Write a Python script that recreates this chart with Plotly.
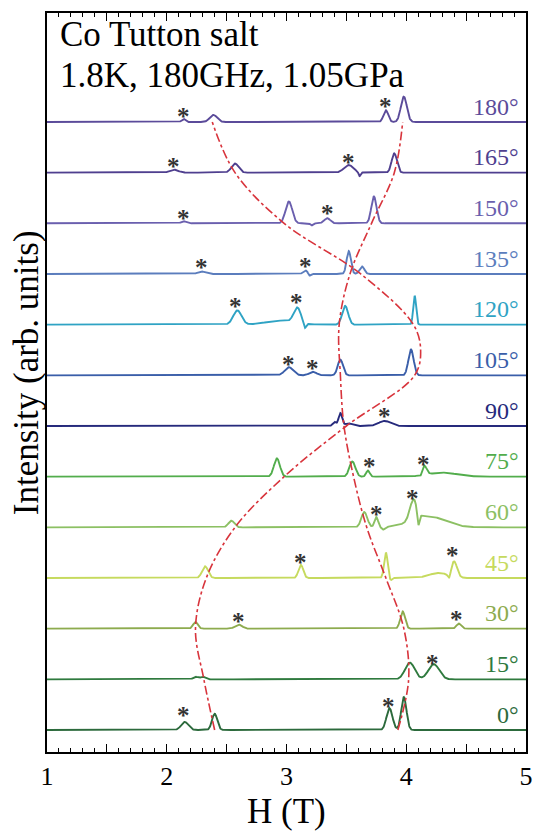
import numpy as np
import plotly.graph_objects as go

# ---------------- data ----------------
ANGLES = [0, 15, 30, 45, 60, 75, 90, 105, 120, 135, 150, 165, 180]
ANGLE_LABELS = ["0°", "15°", "30°", "45°", "60°", "75°", "90°", "105°",
                "120°", "135°", "150°", "165°", "180°"]
COLORS = ["#2c6a3c", "#2f7a3e", "#8dab4e", "#c6da5e", "#8cc063", "#52ad4c",
          "#262a7c", "#3a5ea9", "#2fa3c4", "#5b7dbd", "#6a5fae", "#4f3f8f",
          "#5b4b9a"]

# resonance lines per spectrum: centre field (T), height, width (T)
PEAK_CENTERS = [
    [2.15, 2.40, 3.86, 3.98],
    [2.24, 2.30, 4.03, 4.23],
    [2.24, 2.60, 3.97, 4.44],
    [2.32, 3.12, 3.83, 3.87, 4.27, 4.36, 4.40],
    [2.54, 3.65, 3.75, 3.81, 4.06, 4.10, 4.18],
    [2.92, 3.55, 3.68, 4.12, 4.15, 4.30],
    [3.40, 3.45, 3.52, 3.82],
    [3.02, 3.22, 3.45, 4.04],
    [2.59, 2.95, 3.09, 3.15, 3.49, 4.07],
    [2.29, 3.16, 3.19, 3.52, 3.63],
    [2.14, 3.02, 3.21, 3.34, 3.73],
    [2.06, 2.57, 3.52, 3.61, 3.90],
    [2.14, 2.39, 3.83, 3.98],
]
PEAK_HEIGHTS = [
    [0.16, 0.32, 0.43, 0.65],
    [0.05, 0.05, 0.33, 0.30],
    [0.13, 0.08, 0.34, 0.10],
    [0.23, 0.26, 0.50, -0.05, 0.10, -0.12, 0.30],
    [0.13, 0.30, 0.20, -0.05, 0.40, -0.30, 0.22],
    [0.36, 0.30, 0.12, -0.06, 0.18, 0.08],
    [0.08, 0.25, 0.05, 0.10],
    [0.16, 0.07, 0.31, 0.51],
    [0.28, 0.08, 0.30, -0.12, 0.37, 0.57],
    [0.05, 0.07, -0.05, 0.45, 0.15],
    [0.04, 0.43, -0.04, 0.10, 0.53],
    [0.06, 0.18, 0.15, -0.08, 0.38],
    [0.06, 0.14, 0.23, 0.50],
]
PEAK_WIDTHS = [
    [0.030, 0.022, 0.025, 0.022],
    [0.020, 0.020, 0.040, 0.045],
    [0.020, 0.030, 0.020, 0.020],
    [0.025, 0.020, 0.015, 0.010, 0.080, 0.012, 0.025],
    [0.025, 0.025, 0.015, 0.015, 0.030, 0.010, 0.140],
    [0.025, 0.025, 0.015, 0.010, 0.020, 0.120],
    [0.015, 0.015, 0.030, 0.050],
    [0.035, 0.030, 0.022, 0.022],
    [0.035, 0.120, 0.030, 0.012, 0.025, 0.012],
    [0.030, 0.020, 0.010, 0.018, 0.020],
    [0.020, 0.028, 0.010, 0.025, 0.022],
    [0.035, 0.030, 0.040, 0.008, 0.022],
    [0.015, 0.030, 0.020, 0.025],
]

# asterisks: field position and height above the spectrum baseline
STAR_H = [[2.14, 3.85], [4.22], [2.60, 4.42], [3.12, 4.39], [3.75, 4.05],
          [3.69, 4.14], [3.82], [3.02, 3.22], [2.57, 3.08], [2.29, 3.16],
          [2.14, 3.34], [2.06, 3.52], [2.14, 3.83]]
STAR_Y = [[0.40, 0.59], [0.43], [0.26, 0.30], [0.42, 0.57], [0.38, 0.69],
          [0.32, 0.36], [0.30], [0.34, 0.26], [0.47, 0.55], [0.24, 0.26],
          [0.22, 0.32], [0.24, 0.32], [0.22, 0.43]]

# guide lines (red dash-dot): spectrum index and field
GUIDE_A_IDX = [0, 1, 2, 3, 4, 5, 6, 7, 7.5, 8, 9, 10, 11, 12]
GUIDE_A_H = [2.40, 2.31, 2.24, 2.33, 2.57, 2.98, 3.50, 4.07, 4.12, 4.06,
             3.62, 2.98, 2.57, 2.38]
GUIDE_B_IDX = [0, 1, 2, 3, 4, 5, 6, 7, 8, 9, 10, 11, 12]
GUIDE_B_H = [3.93, 4.02, 3.98, 3.83, 3.67, 3.56, 3.48, 3.45, 3.44, 3.53,
             3.71, 3.90, 3.97]

X_TICKVALS = [1, 1.5, 2, 2.5, 3, 3.5, 4, 4.5, 5]
X_TICKTEXT = ["1", "", "2", "", "3", "", "4", "", "5"]

SERIF = "Liberation Serif, Times New Roman, serif"

# ---------------- figure ----------------
H = np.linspace(1, 5, 1601)
fig = go.Figure()

for k, ang in enumerate(ANGLES):
    y = np.full_like(H, float(k))
    for c, a, w in zip(PEAK_CENTERS[k], PEAK_HEIGHTS[k], PEAK_WIDTHS[k]):
        y = y + a * np.exp(-(H - c) ** 2 / (2 * w ** 2))
    fig.add_trace(go.Scatter(x=H, y=y, mode="lines",
                             line=dict(color=COLORS[k], width=1.9),
                             showlegend=False, hoverinfo="skip"))

for idx, hh in ((GUIDE_A_IDX, GUIDE_A_H), (GUIDE_B_IDX, GUIDE_B_H)):
    fig.add_trace(go.Scatter(x=hh, y=idx, mode="lines",
                             line=dict(color="#d8343c", width=1.6, dash="dashdot",
                                       shape="spline", smoothing=1.0),
                             showlegend=False, hoverinfo="skip"))

annotations = []
for k in range(len(ANGLES)):
    annotations.append(dict(x=4.955, y=k + 0.30, xref="x", yref="y",
                            text=ANGLE_LABELS[k], showarrow=False,
                            xanchor="right", yanchor="middle",
                            font=dict(family=SERIF, size=24, color=COLORS[k])))
    for sh, sy in zip(STAR_H[k], STAR_Y[k]):
        annotations.append(dict(x=sh, y=k + sy, xref="x", yref="y", text="<b>*</b>",
                                showarrow=False, xanchor="center", yanchor="middle",
                                yshift=-6,
                                font=dict(family=SERIF, size=25, color="#333333")))

annotations += [
    dict(x=0.022, y=0.971, xref="paper", yref="paper", text="Co Tutton salt",
         showarrow=False, xanchor="left", yanchor="middle",
         font=dict(family=SERIF, size=35, color="black")),
    dict(x=0.022, y=0.916, xref="paper", yref="paper",
         text="1.8K, 180GHz, 1.05GPa", showarrow=False, xanchor="left",
         yanchor="middle", font=dict(family=SERIF, size=35, color="black")),
    dict(x=0.5, y=-0.080, xref="paper", yref="paper", text="H (T)",
         showarrow=False, xanchor="center", yanchor="middle",
         font=dict(family=SERIF, size=35, color="black")),
    dict(x=-0.041, y=0.513, xref="paper", yref="paper",
         text="Intensity (arb. units)", textangle=-90, showarrow=False,
         xanchor="center", yanchor="middle",
         font=dict(family=SERIF, size=35, color="black")),
]

fig.update_layout(
    width=536, height=831,
    margin=dict(l=47, r=3, t=13, b=79),
    paper_bgcolor="white", plot_bgcolor="white",
    annotations=annotations,
    xaxis=dict(range=[1, 5], tickvals=X_TICKVALS, ticktext=X_TICKTEXT,
               ticks="inside", ticklen=8, tickwidth=1, tickcolor="black",
               minor=dict(dtick=0.1, ticks="inside", ticklen=4, tickwidth=1,
                          tickcolor="black"),
               showline=True, linecolor="black", linewidth=1.5, mirror="ticks",
               showgrid=False, zeroline=False, ticklabeloverflow="allow",
               tickfont=dict(family=SERIF, size=26, color="black")),
    yaxis=dict(range=[-0.434, 14.151], showticklabels=False, ticks="",
               showline=True, linecolor="black", linewidth=1.5, mirror=True,
               showgrid=False, zeroline=False),
)

# place the figure at the very top-left of the page (no default body margin)
fig.write_html("out.html",
               config={"displayModeBar": False},
               post_script="document.body.style.margin='0';"
                           "document.body.style.overflow='hidden';")
